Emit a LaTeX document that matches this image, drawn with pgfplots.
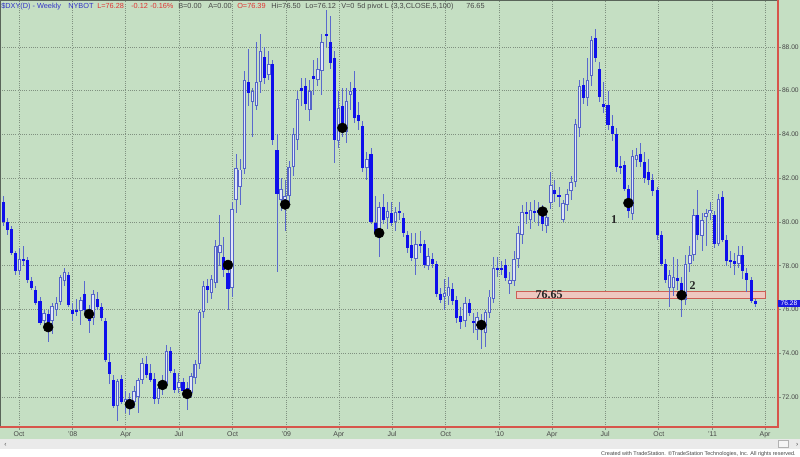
\documentclass[border=0pt]{standalone}
\usepackage{pgfplots}
\pgfplotsset{compat=1.18}
\usepackage{pgfplotstable}
\usepackage{fontspec}
\setmainfont{Liberation Sans}
\newfontfamily\serifb{Liberation Serif}
\definecolor{bggreen}{RGB}{197,223,195}
\definecolor{gridc}{RGB}{128,145,128}
\definecolor{candleblue}{RGB}{15,15,235}
\definecolor{hollowedge}{RGB}{85,100,200}
\definecolor{hollowfill}{RGB}{226,231,247}
\definecolor{wickc}{RGB}{90,105,205}
\definecolor{framered}{RGB}{215,85,75}
\definecolor{titleblue}{RGB}{50,50,200}
\definecolor{titlered}{RGB}{225,50,50}
\definecolor{txtgray}{RGB}{70,70,70}
\definecolor{bandfill}{RGB}{238,200,192}
\definecolor{bandedge}{RGB}{205,95,85}
\definecolor{stripgray}{RGB}{234,234,234}

\pgfplotstableread{
x o h l c u
-17 80.9 81.2 79.8 80.0 0
-16 80.0 80.2 79.4 79.65 0
-15 79.7 79.8 78.5 78.6 0
-14 78.6 78.7 77.6 77.75 0
-13 77.75 78.8 77.6 78.3 1
-12 78.3 78.9 78.0 78.2 0
-11 78.25 78.4 77.2 77.35 0
-10 77.3 77.5 76.9 77.0 0
-9 76.9 77.1 76.2 76.3 0
-8 76.4 76.6 75.3 75.4 0
-7 75.5 76.0 75.3 75.85 1
-6 75.8 76.0 74.5 75.2 0
-5 75.5 76.3 74.9 76.15 1
-4 76.0 76.6 75.7 76.3 1
-3 76.35 77.6 76.2 77.5 1
-2 77.3 77.9 77.1 77.7 1
-1 77.6 77.7 76.1 76.2 0
0 76.0 76.3 75.5 75.8 0
1 76.0 76.5 75.7 75.9 0
2 75.95 76.6 75.3 76.45 1
3 76.7 77.3 75.9 76.0 0
4 76.0 76.2 74.95 75.5 0
5 75.6 76.9 75.3 76.7 1
6 76.5 76.8 76.0 76.1 0
7 76.1 76.3 75.5 75.6 0
8 75.5 75.6 73.6 73.7 0
9 73.6 74.0 72.6 73.05 0
10 72.8 73.0 71.5 71.6 0
11 71.6 72.85 70.9 72.75 1
12 72.85 73.0 71.7 71.8 0
13 71.8 72.3 71.3 71.9 1
14 71.9 72.2 71.2 71.7 0
15 71.8 72.5 71.5 72.3 1
16 72.0 72.9 71.3 72.8 1
17 72.8 73.8 72.6 73.55 1
18 73.5 73.9 72.9 73.0 0
19 73.1 73.5 72.7 72.8 0
20 72.85 73.1 71.7 71.9 0
21 71.9 72.7 71.7 72.4 1
22 72.4 73.0 72.1 72.6 1
23 72.6 74.4 72.5 74.1 1
24 74.1 74.3 73.1 73.2 0
25 73.1 73.3 72.2 72.35 0
26 72.4 73.1 72.2 72.7 1
27 72.7 72.9 72.2 72.3 0
28 72.4 72.7 71.4 72.1 0
29 72.2 73.1 72.0 72.95 1
30 72.9 73.7 72.6 73.5 1
31 73.5 76.0 73.3 75.9 1
32 75.9 77.3 75.6 77.1 1
33 77.1 77.4 76.3 76.9 0
34 76.75 77.6 76.5 77.4 1
35 77.2 79.2 77.0 78.9 1
36 78.6 80.3 78.0 78.95 1
37 78.4 79.3 77.5 77.8 0
38 77.65 78.1 76.0 76.95 0
39 77.0 80.9 76.6 80.6 1
40 81.0 83.1 80.4 82.45 1
41 81.6 82.9 80.8 82.4 1
42 82.4 86.9 82.2 86.5 1
43 86.4 87.9 85.3 85.9 0
44 85.5 86.1 83.9 86.0 1
45 85.3 88.2 85.1 86.4 1
46 86.4 88.6 85.9 87.8 1
47 87.55 88.0 86.3 86.6 0
48 86.7 87.8 86.5 87.2 1
49 87.2 87.4 83.5 83.75 0
50 83.3 84.0 77.7 81.3 0
51 81.0 82.0 80.5 81.5 1
52 81.0 81.9 79.6 81.2 1
53 81.2 82.8 80.9 82.5 1
54 82.5 84.3 82.1 84.0 1
55 83.75 86.0 83.3 85.6 1
56 86.1 86.6 85.3 86.0 0
57 86.2 86.6 85.1 85.4 0
58 85.1 86.5 84.6 86.0 1
59 86.65 87.4 85.8 86.55 0
60 86.5 87.5 86.2 87.0 1
61 86.9 88.6 85.8 88.2 1
62 88.6 89.7 88.0 88.5 0
63 88.2 89.4 87.0 87.25 0
64 87.5 87.8 82.7 83.75 0
65 83.7 86.0 83.4 85.2 1
66 85.3 86.1 83.9 84.3 0
67 84.1 86.1 83.6 85.55 1
68 85.8 86.4 85.1 86.0 1
69 86.1 86.9 84.5 84.75 0
70 84.9 85.5 84.2 84.6 0
71 84.4 84.6 82.3 82.45 0
72 82.45 83.2 81.9 82.9 1
73 83.1 83.4 79.9 80.0 0
74 79.95 81.2 79.4 79.5 0
75 79.65 80.9 78.4 80.7 1
76 80.7 81.3 79.9 80.1 0
77 80.2 80.9 79.7 80.5 1
78 80.4 80.9 79.8 79.95 0
79 80.0 80.7 79.6 80.45 1
80 80.5 80.9 80.1 80.4 0
81 80.2 80.4 79.3 79.5 0
82 79.4 79.6 78.6 78.8 0
83 78.95 79.5 78.2 78.35 0
84 78.3 79.5 77.6 79.0 1
85 79.0 79.6 78.6 78.9 0
86 79.0 79.2 77.9 78.05 0
87 78.0 78.8 77.8 78.45 1
88 78.3 78.6 77.9 78.1 0
89 78.1 78.2 76.6 76.7 0
90 76.7 77.0 76.3 76.45 0
91 76.6 77.4 76.0 76.75 1
92 76.6 77.5 76.2 77.05 1
93 76.95 77.2 76.2 76.4 0
94 76.45 76.6 75.4 75.6 0
95 75.7 76.1 75.1 75.45 0
96 75.5 76.6 75.2 76.3 1
97 76.3 76.5 75.7 75.85 0
98 75.5 75.85 74.95 75.4 0
99 75.07 75.9 74.6 75.68 1
100 75.5 75.8 74.2 75.1 0
101 74.95 76.0 74.3 75.9 1
102 75.85 76.9 75.6 76.6 1
103 76.5 78.4 76.3 77.9 1
104 77.9 78.4 77.5 77.8 0
105 77.9 78.2 77.6 77.8 0
106 78.05 78.3 77.3 77.45 0
107 77.15 77.7 76.7 77.35 1
108 77.3 78.7 77.1 78.3 1
109 78.3 79.8 77.9 79.5 1
110 79.4 80.8 79.0 80.45 1
111 80.45 80.9 79.9 80.35 0
112 80.1 80.9 79.7 80.55 1
113 80.5 81.0 80.0 80.45 0
114 80.55 80.9 79.8 80.4 0
115 80.45 80.8 79.6 79.9 0
116 79.8 80.6 79.5 80.25 1
117 80.85 82.3 80.6 81.7 1
118 81.45 81.9 80.9 81.3 0
119 81.2 81.6 80.7 81.15 0
120 80.1 81.0 80.0 80.85 1
121 80.8 81.5 80.5 81.3 1
122 81.4 82.1 81.0 81.85 1
123 81.85 84.7 81.6 84.5 1
124 84.3 86.5 83.9 86.2 1
125 86.25 86.6 85.4 85.65 0
126 85.65 87.5 85.3 86.5 1
127 86.65 88.5 86.2 88.3 1
128 88.4 88.8 87.3 87.5 0
129 87.0 87.3 85.5 85.7 0
130 85.4 86.4 85.0 85.25 0
131 85.35 86.0 84.2 84.45 0
132 84.4 84.9 83.7 84.0 0
133 84.0 84.3 82.3 82.5 0
134 82.55 83.0 82.2 82.5 0
135 82.6 82.8 81.4 81.5 0
136 81.5 81.7 80.2 80.5 0
137 80.35 83.3 80.1 83.0 1
138 82.85 83.4 82.5 83.05 1
139 83.1 83.6 82.5 82.75 0
140 82.75 83.2 81.8 82.0 0
141 82.3 82.9 81.7 81.9 0
142 81.9 82.2 81.2 81.4 0
143 81.45 81.6 79.2 79.4 0
144 79.4 79.6 78.0 78.1 0
145 78.1 78.3 77.2 77.35 0
146 77.0 77.8 76.1 77.6 1
147 77.0 78.4 76.6 77.5 1
148 77.45 78.3 76.9 77.3 0
149 77.2 77.5 75.65 76.7 0
150 76.45 78.5 76.2 78.1 1
151 78.1 78.9 77.7 78.5 1
152 78.5 80.6 78.2 80.3 1
153 80.3 81.45 79.2 79.4 0
154 79.35 80.4 78.7 80.1 1
155 80.25 80.6 78.9 80.4 1
156 80.4 80.9 80.1 80.55 1
157 80.3 80.5 78.8 79.0 0
158 79.0 81.3 78.9 81.05 1
159 81.15 81.4 79.1 79.2 0
160 79.2 79.4 78.0 78.2 0
161 78.25 78.7 77.9 78.2 0
162 78.2 78.6 77.6 78.1 0
163 78.1 78.9 77.9 78.5 1
164 78.5 78.9 77.4 77.75 0
165 77.65 77.9 76.8 77.35 0
166 77.35 77.5 76.3 76.4 0
167 76.39 76.5 76.12 76.28 0
}\candles

\pgfplotstableread{
x y
-6 75.2
4 75.8
14 71.68
22 72.56
28 72.15
38 78.04
52 80.8
66 84.3
75 79.5
100 75.3
115 80.48
136 80.87
149 76.66
}\pivots

\newcommand{\ttxt}[3]{\node[anchor=base west, inner sep=0pt, font=\fontsize{5.5}{6}\selectfont, text=#2] at ({#1*0.75pt},336.6pt) {#3};}

\begin{document}
\begin{tikzpicture}
\useasboundingbox (0pt,0pt) rectangle (600pt,342.75pt);
\fill[bggreen] (0pt,0pt) rectangle (600pt,342.75pt);
\fill[stripgray] (0pt,6pt) rectangle (600pt,13.5pt);
\fill[white] (0pt,0pt) rectangle (600pt,6pt);
\begin{axis}[
  at={(0pt,22.5pt)}, anchor=south west,
  scale only axis, width=583.5pt, height=320.25pt,
  xmin=-17.79, xmax=172.6, ymin=70.64, ymax=90.14,
  axis line style={draw=none},
  clip=false,
  xtick={-13.14,0,13,26,39.14,52.29,65.14,78.14,91.29,104.43,117.29,130.29,143.43,156.57,169.43},
  xticklabels={Oct,'08,Apr,Jul,Oct,'09,Apr,Jul,Oct,'10,Apr,Jul,Oct,'11,Apr},
  ytick={72,74,...,88},
  xtick pos=bottom, ytick pos=right, yticklabel pos=right,
  tick align=outside, major tick length=2.2pt,
  tick style={draw=gridc, line width=0.5pt},
  /pgf/number format/assume math mode=true,
  yticklabel={\pgfmathprintnumber[fixed,fixed zerofill,precision=2]{\tick}},
  yticklabel style={font=\fontsize{5}{6}\selectfont, text=txtgray, inner sep=0.6pt},
  xticklabel style={font=\fontsize{5.2}{6}\selectfont, text=txtgray, inner sep=1pt},
  grid=major,
  grid style={draw=gridc, line width=0.5pt, dash pattern=on 0.75pt off 0.9pt},
]
% support band
\addplot[fill=bandfill, draw=bandedge, line width=0.6pt] coordinates {(108.7,76.49) (169.4,76.49) (169.4,76.85) (108.7,76.85)} -- cycle;
% wicks
\addplot[draw=none, mark=none, error bars/.cd, y dir=both, y explicit, error mark=none,
  error bar style={draw=wickc, line width=0.7pt, solid}]
  table[x=x, y expr={(\thisrow{h}+\thisrow{l})/2}, y error expr={(\thisrow{h}-\thisrow{l})/2}] {\candles};
% down (filled) bodies
\addplot[draw=none, mark=none, error bars/.cd, y dir=both, y explicit, error mark=none,
  error bar style={draw=candleblue, line width=2.3pt, solid}]
  table[x=x, y expr={(\thisrow{o}+\thisrow{c})/2}, y error expr={(1-\thisrow{u})*max(abs(\thisrow{o}-\thisrow{c})/2,0.04)}] {\candles};
% up (hollow) bodies
\addplot[draw=none, mark=none, error bars/.cd, y dir=both, y explicit, error mark=none,
  error bar style={draw=hollowedge, line width=2.7pt, solid}]
  table[x=x, y expr={(\thisrow{o}+\thisrow{c})/2}, y error expr={\thisrow{u}*max(abs(\thisrow{o}-\thisrow{c})/2,0.05)}] {\candles};
\addplot[draw=none, mark=none, error bars/.cd, y dir=both, y explicit, error mark=none,
  error bar style={draw=hollowfill, line width=1.15pt, solid}]
  table[x=x, y expr={(\thisrow{o}+\thisrow{c})/2}, y error expr={\thisrow{u}*max(abs(\thisrow{o}-\thisrow{c})/2-0.045,0)}] {\candles};
% pivot dots
\addplot[only marks, mark=*, mark size=3.7pt, black] table[x=x,y=y] {\pivots};
% annotations
\node[font=\serifb\bfseries\fontsize{9}{10}\selectfont, text=black!85] at (axis cs:116.6,76.69) {76.65};
\node[font=\serifb\bfseries\fontsize{9}{10}\selectfont, text=black!85] at (axis cs:132.5,80.1) {1};
\node[font=\serifb\bfseries\fontsize{9}{10}\selectfont, text=black!85] at (axis cs:151.7,77.1) {2};
% frame
\draw[gridc!70!black, line width=0.8pt] (rel axis cs:0,0) -- (rel axis cs:0,1) -- (rel axis cs:1,1);
\draw[framered, line width=0.8pt] (rel axis cs:0,0) -- (rel axis cs:1,0) -- (rel axis cs:1,1);
\node[anchor=west, fill={rgb,255:red,25;green,25;blue,225}, text=white, inner sep=0.7pt, minimum width=16pt, font=\fontsize{5}{6}\selectfont] at (axis cs:172.6,76.28) {76.28};
\end{axis}
% title line
\ttxt{1}{titleblue}{\$DXY(D) - Weekly}
\ttxt{68}{titleblue}{NYBOT}
\ttxt{97}{titlered}{L=76.28}
\ttxt{131}{titlered}{-0.12}
\ttxt{150}{titlered}{-0.16\%}
\ttxt{178}{txtgray}{B=0.00}
\ttxt{208}{txtgray}{A=0.00}
\ttxt{237}{titlered}{O=76.39}
\ttxt{271}{txtgray}{Hi=76.50}
\ttxt{305}{txtgray}{Lo=76.12}
\ttxt{341}{txtgray}{V=0}
\ttxt{357}{txtgray}{5d pivot L (3,3,CLOSE,5,100)}
\ttxt{466}{txtgray}{76.65}
% bottom strip
\node[anchor=base west, inner sep=0pt, font=\fontsize{5}{6}\selectfont, text=txtgray] at (3pt,8pt) {‹};
\draw[gray!60, fill=white!92!gray] (584pt,7pt) rectangle (591pt,12.5pt);
\node[anchor=base east, inner sep=0pt, font=\fontsize{5}{6}\selectfont, text=txtgray] at (599pt,8pt) {›};
\node[anchor=base east, inner sep=0pt, font=\fontsize{4.1}{5}\selectfont, text=txtgray] at (597pt,1pt) {Created with TradeStation. ©TradeStation Technologies, Inc. All rights reserved.};
\end{tikzpicture}
\end{document}
